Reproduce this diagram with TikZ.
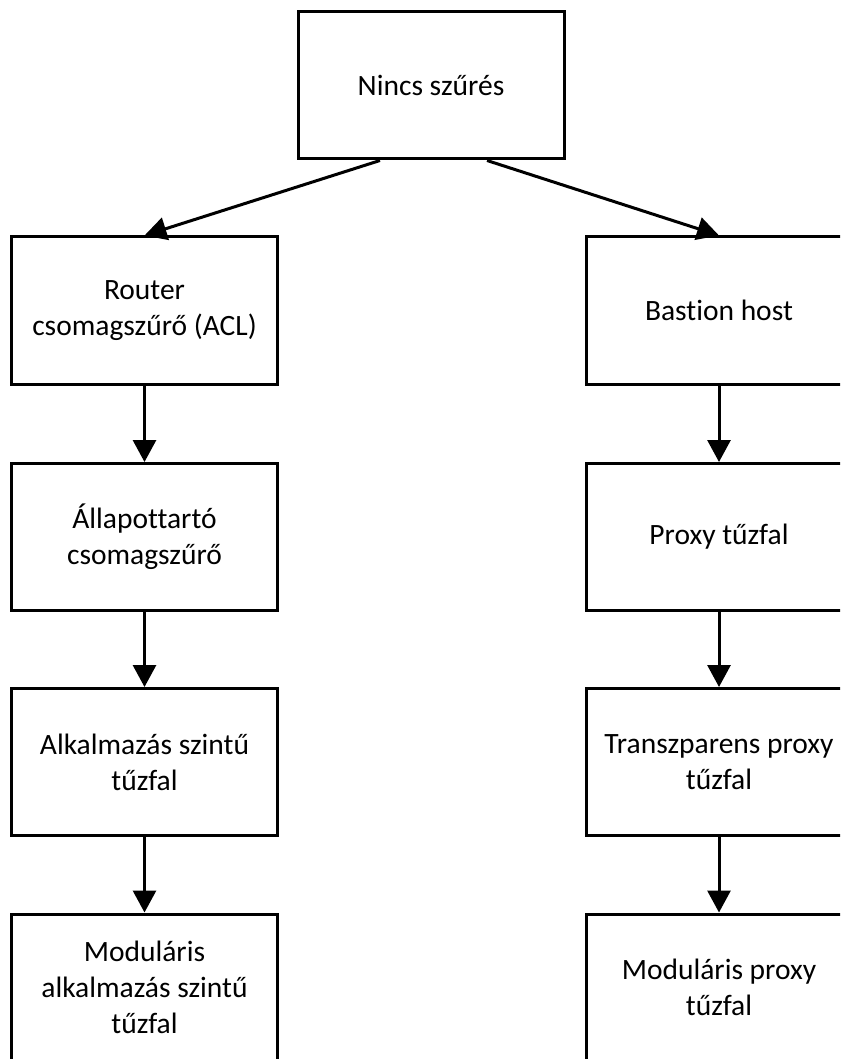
\documentclass[tikz,border=0pt]{standalone}
\usepackage{fontspec}
\setmainfont[Ligatures=NoCommon]{Carlito}
\usetikzlibrary{arrows.meta}

\tikzset{
  box/.style={draw, line width=3pt, rectangle, minimum width=266pt, minimum height=147pt,
    align=center, inner sep=0pt, font=\fontsize{29.5}{36}\selectfont},
  link/.style={line width=3pt, -{Triangle[width=23pt,length=22pt]}}
}

\begin{document}
\begin{tikzpicture}[x=1pt,y=-1pt]
  \useasboundingbox (0,0) rectangle (840,1059);
  \clip (0,0) rectangle (840,1059);

  % root
  \node[box] (root) at (431,85.5) {Nincs szűrés};

  % left branch
  \node[box] (l1) at (144.5,310.5) {Router\\csomagszűrő (ACL)};
  \node[box] (l2) at (144.5,537)   {Állapottartó\\csomagszűrő};
  \node[box] (l3) at (144.5,762)   {Alkalmazás szintű\\tűzfal};
  \node[box] (l4) at (144.5,987.5) {Moduláris\\alkalmazás szintű\\tűzfal};

  % right branch
  \node[box] (r1) at (719,310.5) {Bastion host};
  \node[box] (r2) at (719,537)   {Proxy tűzfal};
  \node[box] (r3) at (719,762)   {Transzparens proxy\\tűzfal};
  \node[box] (r4) at (719,987.5) {Moduláris proxy\\tűzfal};

  % connectors
  \draw[link] ([xshift=-51pt]root.south) -- (l1.north);
  \draw[link] ([xshift=56pt]root.south) -- (r1.north);
  \draw[link] (l1) -- (l2);
  \draw[link] (l2) -- (l3);
  \draw[link] (l3) -- (l4);
  \draw[link] (r1) -- (r2);
  \draw[link] (r2) -- (r3);
  \draw[link] (r3) -- (r4);
\end{tikzpicture}
\end{document}
